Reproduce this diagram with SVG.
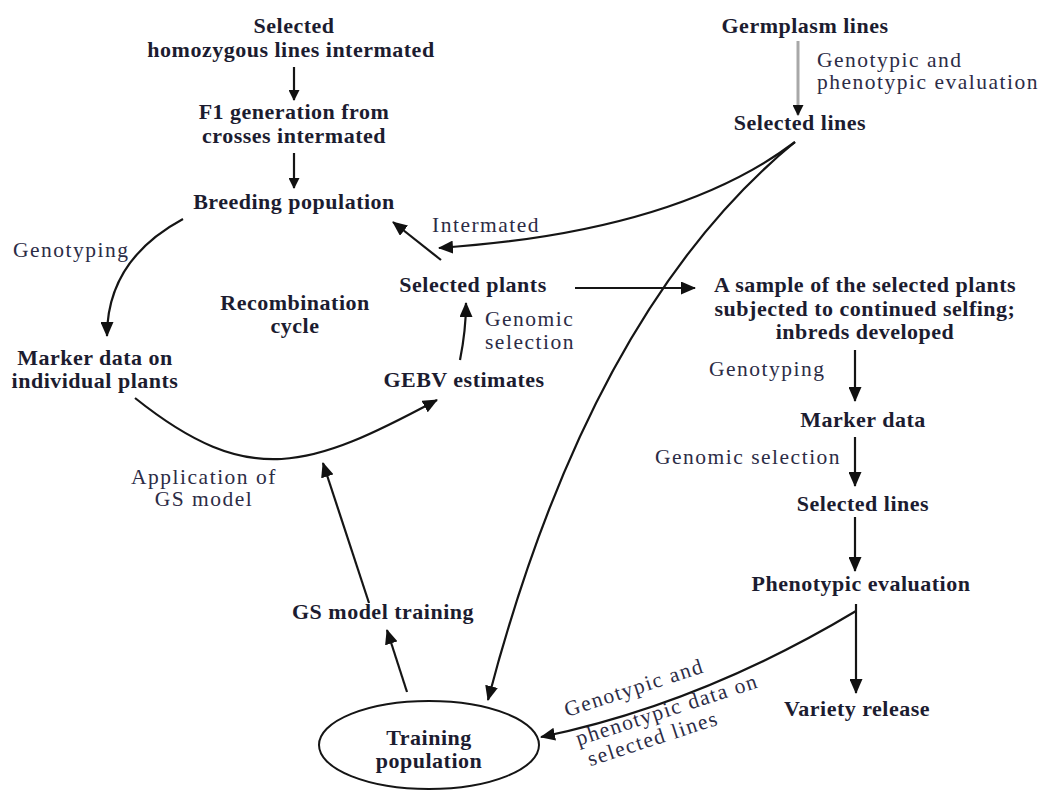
<svg xmlns="http://www.w3.org/2000/svg" width="1048" height="791" viewBox="0 0 1048 791">
<style>
.b{font-family:"Liberation Serif","Times New Roman",serif;font-weight:bold;font-size:22px;letter-spacing:0.5px;fill:#1c1c30;text-anchor:middle}
.r{font-family:"Liberation Serif","Times New Roman",serif;font-size:21.5px;letter-spacing:1.5px;fill:#2c2c46}
.m{text-anchor:middle}
.c{fill:none;stroke:#151515;stroke-width:2.2}
</style>
<defs>
<marker id="ah" viewBox="0 0 15 13" refX="14" refY="6.5" markerWidth="15" markerHeight="13" markerUnits="userSpaceOnUse" orient="auto"><path d="M0,0 L15,6.5 L0,13 z" fill="#111"/></marker>
<marker id="as" viewBox="0 0 11 11" refX="10" refY="5.5" markerWidth="11" markerHeight="11" markerUnits="userSpaceOnUse" orient="auto"><path d="M0,0 L11,5.5 L0,11 z" fill="#111"/></marker>
</defs>
<rect width="1048" height="791" fill="#fff"/>
<g id="connectors">
<path class="c" d="M294,67 L294,100" marker-end="url(#as)"/>
<path class="c" d="M294,153 L294,188" marker-end="url(#as)"/>
<path d="M798,41 L798,115" fill="none" stroke="#a8a8a8" stroke-width="3" marker-end="url(#as)"/>
<path class="c" d="M795,142 Q676,232 439,248" marker-end="url(#ah)"/>
<path class="c" d="M795,142 Q590,310 488,700" marker-end="url(#ah)"/>
<path class="c" d="M183,219 Q107,260 107,336" marker-end="url(#ah)"/>
<path class="c" d="M135,398 C250,490 310,468 437,400" marker-end="url(#ah)"/>
<path class="c" d="M460,360 Q466,330 466,303" marker-end="url(#ah)"/>
<path class="c" d="M441,260 L393,222" marker-end="url(#ah)"/>
<path class="c" d="M575,288 L695,288" marker-end="url(#ah)"/>
<path class="c" d="M855,350 L855,401" marker-end="url(#ah)"/>
<path class="c" d="M855,437 L855,486" marker-end="url(#ah)"/>
<path class="c" d="M855,517 L855,571" marker-end="url(#ah)"/>
<path class="c" d="M856,604 L856,693" marker-end="url(#ah)"/>
<path class="c" d="M856,611 Q701,704 541,737" marker-end="url(#ah)"/>
<path class="c" d="M407,692 L387,630" marker-end="url(#ah)"/>
<path class="c" d="M369,603 L323,463" marker-end="url(#ah)"/>
</g>
<g id="labels">
<text class="r" x="817" y="67">Genotypic and</text>
<text class="r" x="817" y="89">phenotypic evaluation</text>
<text class="r" x="432" y="232">Intermated</text>
<text class="r" x="13" y="257">Genotyping</text>
<text class="r" x="485" y="326">Genomic</text>
<text class="r" x="485" y="349">selection</text>
<text class="r m" x="204" y="484">Application of</text>
<text class="r m" x="204" y="506">GS model</text>
<text class="r" x="709" y="376">Genotyping</text>
<text class="r" x="655" y="464">Genomic selection</text>
<g transform="translate(567,717) rotate(-18)">
<text class="r" x="0" y="0">Genotypic and</text>
<text class="r" x="2" y="31">phenotypic data on</text>
<text class="r" x="7" y="54">selected lines</text>
</g>
</g>
<g id="n-selected-homozygous"><text class="b" x="294" y="33">Selected</text><text class="b" x="291" y="57">homozygous lines intermated</text></g>
<g id="n-f1"><text class="b" x="294" y="119">F1 generation from</text><text class="b" x="294" y="143">crosses intermated</text></g>
<g id="n-breeding"><text class="b" x="294" y="209">Breeding population</text></g>
<g id="n-germplasm"><text class="b" x="805" y="33">Germplasm lines</text></g>
<g id="n-selected-lines-top"><text class="b" x="800" y="130">Selected lines</text></g>
<g id="n-marker-individual"><text class="b" x="95" y="365">Marker data on</text><text class="b" x="95" y="388">individual plants</text></g>
<g id="n-recombination"><text class="b" x="295" y="310">Recombination</text><text class="b" x="295" y="333">cycle</text></g>
<g id="n-selected-plants"><text class="b" x="473" y="292">Selected plants</text></g>
<g id="n-gebv"><text class="b" x="464" y="387">GEBV estimates</text></g>
<g id="n-sample"><text class="b" x="865" y="292">A sample of the selected plants</text><text class="b" x="865" y="316">subjected to continued selfing;</text><text class="b" x="865" y="339">inbreds developed</text></g>
<g id="n-marker-data"><text class="b" x="863" y="427">Marker data</text></g>
<g id="n-selected-lines"><text class="b" x="863" y="511">Selected lines</text></g>
<g id="n-phenotypic"><text class="b" x="861" y="591">Phenotypic evaluation</text></g>
<g id="n-variety"><text class="b" x="857" y="716">Variety release</text></g>
<g id="n-gs-training"><text class="b" x="383" y="619">GS model training</text></g>
<g id="n-training-pop"><ellipse cx="429" cy="745" rx="110" ry="44" fill="none" stroke="#151515" stroke-width="2"/><text class="b" x="429" y="745">Training</text><text class="b" x="429" y="768">population</text></g>
</svg>
